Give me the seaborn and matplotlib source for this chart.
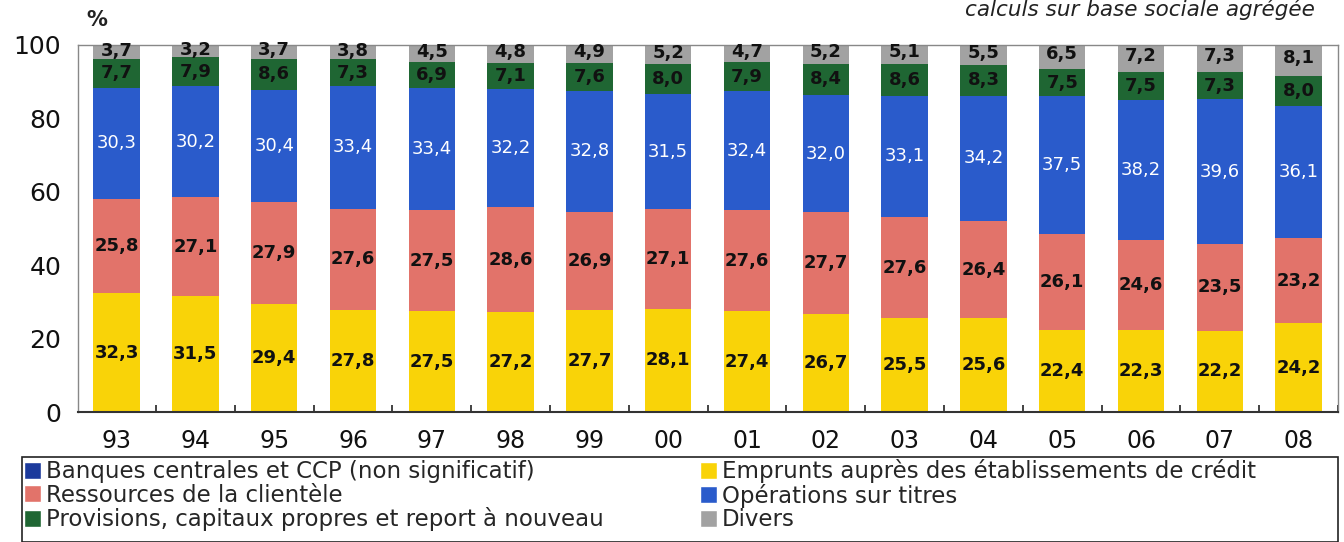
import matplotlib
matplotlib.use("Agg")
import matplotlib.pyplot as plt
from matplotlib.patches import Patch, Rectangle
import seaborn as sns
import numpy as np
import pandas as pd

years = ["93", "94", "95", "96", "97", "98", "99", "00", "01", "02", "03", "04", "05", "06", "07", "08"]
emprunts = [32.3, 31.5, 29.4, 27.8, 27.5, 27.2, 27.7, 28.1, 27.4, 26.7, 25.5, 25.6, 22.4, 22.3, 22.2, 24.2]
ressources = [25.8, 27.1, 27.9, 27.6, 27.5, 28.6, 26.9, 27.1, 27.6, 27.7, 27.6, 26.4, 26.1, 24.6, 23.5, 23.2]
titres = [30.3, 30.2, 30.4, 33.4, 33.4, 32.2, 32.8, 31.5, 32.4, 32.0, 33.1, 34.2, 37.5, 38.2, 39.6, 36.1]
provisions = [7.7, 7.9, 8.6, 7.3, 6.9, 7.1, 7.6, 8.0, 7.9, 8.4, 8.6, 8.3, 7.5, 7.5, 7.3, 8.0]
divers = [3.7, 3.2, 3.7, 3.8, 4.5, 4.8, 4.9, 5.2, 4.7, 5.2, 5.1, 5.5, 6.5, 7.2, 7.3, 8.1]
yticks = [0, 20, 40, 60, 80, 100]

names = ["Emprunts auprès des établissements de crédit", "Ressources de la clientèle",
         "Opérations sur titres", "Provisions, capitaux propres et report à nouveau", "Divers"]
colors = ["#F9D308", "#E2736A", "#2A5BCB", "#1F6633", "#A2A2A2"]
label_colors = ["#111111", "#111111", "white", "#111111", "#111111"]
label_weights = ["bold", "bold", "normal", "bold", "bold"]
banques_name = "Banques centrales et CCP (non significatif)"
banques_color = "#1C3A9C"

series = [emprunts, ressources, titres, provisions, divers]

sns.set_theme(style="white")
plt.rcParams["font.family"] = ["DejaVu Sans"]

fig = plt.figure(figsize=(13.44, 5.42), dpi=100)
ax = fig.add_axes([78 / 1344, 1 - 412 / 542, 1260 / 1344, (412 - 45) / 542])

arr = np.array(series)
cum = np.cumsum(arr, axis=0)
df = pd.DataFrame({"year": years})
for i in range(len(series)):
    df[f"cum{i}"] = cum[i]

# draw from the top layer down so lower layers overlay
for i in reversed(range(len(series))):
    sns.barplot(data=df, x="year", y=f"cum{i}", color=colors[i], saturation=1,
                width=0.59, ax=ax, edgecolor="none", linewidth=0)

for i in range(len(series)):
    bottoms = cum[i] - arr[i]
    for j, v in enumerate(arr[i]):
        yc = bottoms[j] + v / 2
        if i == 4:
            yc = bottoms[j] + v * 0.62
        ax.text(j, yc, f"{v:.1f}".replace(".", ","), ha="center", va="center",
                fontsize=13, color=label_colors[i], fontweight=label_weights[i])

ax.set_xlim(-0.49, 15.38)
ax.set_ylim(0, 100)
ax.set_yticks(yticks)
ax.set_yticklabels([str(t) for t in yticks])
ax.set_xlabel("")
ax.set_ylabel("")
ax.tick_params(axis="y", length=0, pad=12, labelsize=18, colors="#111111")
ax.tick_params(axis="x", which="major", length=0, pad=12, labelsize=17, colors="#111111")
ax.set_xticks(np.arange(len(years)) + 0.5, minor=True)
ax.tick_params(axis="x", which="minor", direction="in", length=5, width=1.2, color="#222222", bottom=True)
for s in ax.spines.values():
    s.set_color("#888888")
    s.set_linewidth(1.0)
ax.spines["bottom"].set_color("#333333")
ax.spines["bottom"].set_linewidth(1.5)

fig.text(97 / 1344, 1 - 20 / 542, "%", fontsize=15, ha="center", va="center", fontweight="bold", color="#222222")
fig.text(965 / 1344, 1 - 9 / 542, "calculs sur base sociale agrégée", fontsize=15.5, style="italic",
         ha="left", va="center", color="#222222")

handles = [Patch(facecolor=banques_color, label=banques_name),
           Patch(facecolor=colors[1], label=names[1]),
           Patch(facecolor=colors[3], label=names[3]),
           Patch(facecolor=colors[0], label=names[0]),
           Patch(facecolor=colors[2], label=names[2]),
           Patch(facecolor=colors[4], label=names[4])]
leg = fig.legend(handles=handles, ncol=2, loc="upper left",
                 bbox_to_anchor=(22 / 1344, 1 - 457 / 542),
                 fontsize=16.5, frameon=False, borderpad=0.1,
                 handlelength=0.75, handleheight=0.75, handletextpad=0.2,
                 labelspacing=0.02, borderaxespad=0, columnspacing=4.2)

fig.patches.append(Rectangle((22 / 1344, 0.5 / 542), (1338 - 22) / 1344, (542 - 457) / 542,
                             transform=fig.transFigure, fill=False, edgecolor="#222222",
                             linewidth=1.2, zorder=5))

fig.savefig("out.png", dpi=100)
